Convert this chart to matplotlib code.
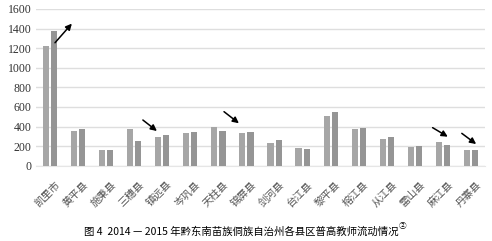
import numpy as np
import matplotlib.pyplot as plt
import matplotlib.transforms as mtransforms

plt.rcParams['font.family'] = ['Noto Sans CJK SC', 'DejaVu Sans']

# counties and teacher counts (2014, 2015)
counties = ['凯里市', '黄平县', '施秉县', '三穗县', '镇远县', '岑巩县', '天柱县', '锦屏县',
            '剑河县', '台江县', '黎平县', '榕江县', '从江县', '雷山县', '麻江县', '丹寨县']
y2014 = [1225, 358, 157, 375, 294, 332, 397, 332, 236, 178, 503, 373, 274, 188, 239, 161]
y2015 = [1379, 375, 160, 253, 317, 342, 359, 345, 263, 168, 544, 390, 291, 202, 209, 161]
yticks = [0, 200, 400, 600, 800, 1000, 1200, 1400, 1600]

# arrows: (tail, head) in data coords
arrows = [((0.18, 1255), (0.78, 1450)),
          ((3.31, 467), (3.81, 355)),
          ((6.20, 552), (6.73, 434)),
          ((13.63, 389), (14.17, 297)),
          ((14.67, 331), (15.18, 222))]

fig = plt.figure(figsize=(4.92, 2.41), dpi=100)
ax = fig.add_axes([0.073, 0.312, 0.913, 0.651])

x = np.arange(len(counties))
w = 0.22
ax.bar(x - 0.145, y2014, w, color='#a6a6a6', zorder=3)
ax.bar(x + 0.145, y2015, w, color='#959595', zorder=3)

for tail, head in arrows:
    ax.annotate('', xy=head, xytext=tail,
                arrowprops=dict(arrowstyle='-|>', color='black', lw=1.1,
                                mutation_scale=9, shrinkA=0, shrinkB=0), zorder=5)

ax.set_xlim(-0.5, len(counties) - 0.5)
ax.set_ylim(0, 1600)
ax.set_yticks(yticks)
ax.set_yticklabels([str(v) for v in yticks], family='Liberation Serif', fontsize=8.5, color='#333333')
ax.yaxis.grid(True, color='#dedede', lw=1, zorder=0)
ax.tick_params(axis='y', length=0, pad=3)
ax.set_xticks(x)
ax.set_xticklabels(counties, rotation=45, ha='right', va='top', rotation_mode='anchor',
                   fontsize=7.5, color='#555555')
ax.tick_params(axis='x', length=0, pad=10)
shift = mtransforms.ScaledTranslation(5 / 100, 0, fig.dpi_scale_trans)
for lbl in ax.get_xticklabels():
    lbl.set_transform(lbl.get_transform() + shift)
for s in ['top', 'right', 'left']:
    ax.spines[s].set_visible(False)
ax.spines['bottom'].set_color('#e6e6e6')

cap = fig.text(0.49, 0.037, '图 4  2014 — 2015 年黔东南苗族侗族自治州各县区普高教师流动情况',
               ha='center', va='center', fontsize=7.5, color='black')
ax.annotate('②', xy=(1, 0.7), xycoords=cap, fontsize=5.5, va='bottom', ha='left')

fig.savefig('out.png', dpi=100)
